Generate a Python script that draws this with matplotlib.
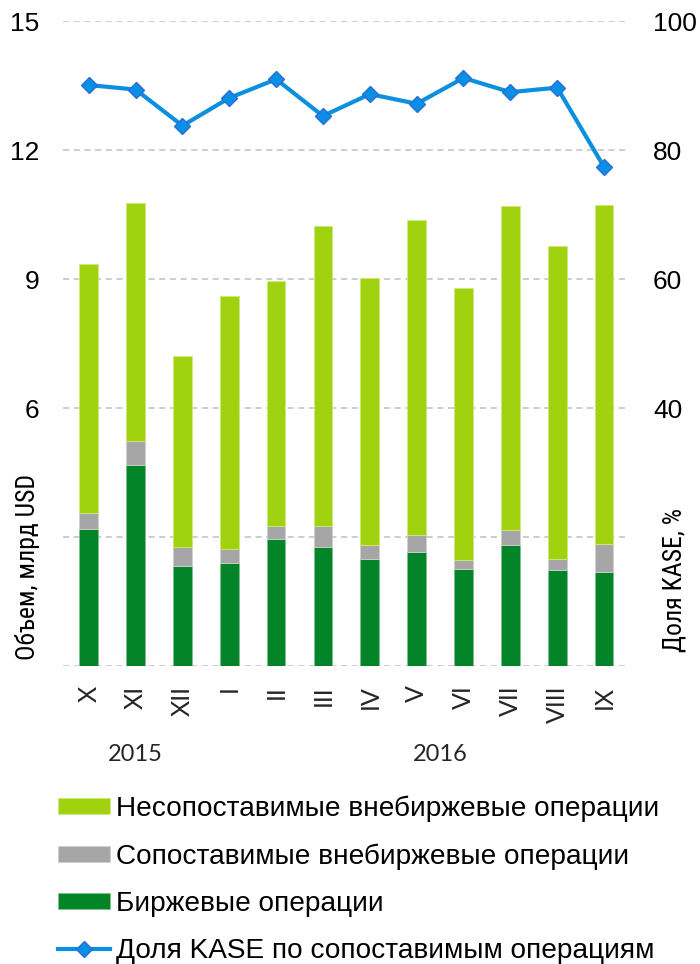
import numpy as np
import matplotlib.pyplot as plt
from matplotlib import font_manager as fm

# months and year groups
months = ['X', 'XI', 'XII', 'I', 'II', 'III', 'IV', 'V', 'VI', 'VII', 'VIII', 'IX']
years = ['2015', '2016']
year_pos = [1, 7.5]

# stacked totals, bln USD
exchange = [3.19, 4.68, 2.33, 2.40, 2.96, 2.77, 2.50, 2.66, 2.26, 2.82, 2.24, 2.19]
comparable_top = [3.55, 5.24, 2.78, 2.73, 3.26, 3.26, 2.82, 3.05, 2.47, 3.17, 2.50, 2.83]
total_top = [9.35, 10.77, 7.21, 8.60, 8.95, 10.23, 9.02, 10.37, 8.79, 10.70, 9.77, 10.72]
# KASE share, %
kase_share = [90.1, 89.4, 83.8, 88.1, 91.0, 85.3, 88.7, 87.2, 91.2, 89.0, 89.7, 77.4]

left_ticks = [0, 3, 6, 9, 12, 15]
left_ticklabels = ['', '', '6', '9', '12', '15']
right_ticks = [0, 20, 40, 60, 80, 100]
right_ticklabels = ['', '', '40', '60', '80', '100']

labels = ['Несопоставимые внебиржевые операции',
          'Сопоставимые внебиржевые операции',
          'Биржевые операции',
          'Доля KASE по сопоставимым операциям']

exchange = np.array(exchange)
comparable = np.array(comparable_top) - exchange
noncomparable = np.array(total_top) - np.array(comparable_top)

light_green = '#a1d20f'
grey = '#a6a6a6'
dark_green = '#038428'
blue = '#0b8fdf'


# look for a narrow sans face for the axis titles
def narrow_font(size):
    best = None
    for f in fm.fontManager.ttflist:
        nm = f.name
        st = str(f.stretch)
        narrowish = ('Narrow' in nm or 'Condensed' in nm or 'condensed' in st)
        if not narrowish or f.style != 'normal' or f.weight not in (400, 'normal', 'regular', 'book'):
            continue
        if 'Mono' in nm or 'Serif' in nm:
            continue
        rank = 0 if 'Liberation' in nm else 1 if 'Roboto' in nm else 2
        if best is None or rank < best[0]:
            best = (rank, f.fname)
    if best is None:
        return fm.FontProperties(family='Roboto', size=size)
    return fm.FontProperties(fname=best[1], size=size)


plt.rcParams['font.family'] = ['Liberation Sans', 'DejaVu Sans']

fig = plt.figure(figsize=(7, 9.64), dpi=100)
ax = fig.add_axes([0.09, 0.309, 0.803, 0.669])

x = np.arange(len(months))
w = 0.4
b1 = ax.bar(x, exchange, w, color=dark_green, edgecolor='#7fc08f', linewidth=0.6, zorder=2)
b2 = ax.bar(x, comparable, w, bottom=exchange, color=grey, edgecolor='#d0d0d0',
            linewidth=0.6, zorder=2)
b3 = ax.bar(x, noncomparable, w, bottom=exchange + comparable, color=light_green,
            edgecolor='#cde87a', linewidth=0.6, zorder=2)

ax.set_xlim(-0.55, 11.45)
ax.set_ylim(0, 15)
ax.set_yticks(left_ticks)
ax.set_yticklabels(left_ticklabels)
ax.yaxis.grid(True, color='#c0c0c0', linestyle=(0, (4, 3)), linewidth=1.1)
ax.set_axisbelow(True)
for s in ax.spines.values():
    s.set_visible(False)
ax.tick_params(axis='y', length=0, pad=17, labelsize=19)
ax.tick_params(axis='x', length=0, pad=14)
ax.set_xticks(x)
ax.set_xticklabels(months, rotation=90, fontsize=18, family='Lato', color='#262626', va='top')

ax2 = ax.twinx()
ax2.set_ylim(0, 100)
ax2.set_yticks(right_ticks)
ax2.set_yticklabels(right_ticklabels)
for s in ax2.spines.values():
    s.set_visible(False)
ax2.tick_params(axis='y', length=0, pad=20, labelsize=19)
ln, = ax2.plot(x, kase_share, color=blue, linewidth=3, marker='D', markersize=8,
               markerfacecolor='#0a8fe6', markeredgecolor='#2d6fd0', markeredgewidth=1)

for yr, xp in zip(years, year_pos):
    ax.text(xp, -0.137, yr, transform=ax.get_xaxis_transform(), ha='center', va='center',
            fontsize=17, family='Lato', color='#262626', clip_on=False)

fp = narrow_font(18.5)
fig.text(0.040, 0.412, 'Объем, млрд USD', rotation=90, ha='center', va='center',
         fontproperties=fp)
fig.text(0.963, 0.398, 'Доля KASE, %', rotation=90, ha='center', va='center',
         fontproperties=fp)

fig.legend([b3, b2, b1, ln], labels, loc='upper left', bbox_to_anchor=(0.083, 0.175),
           frameon=False, fontsize=20.2, handlelength=1.85, handleheight=0.5,
           handletextpad=0.2, labelspacing=0.76, borderaxespad=0, borderpad=0)

fig.savefig('out.png', dpi=100)
